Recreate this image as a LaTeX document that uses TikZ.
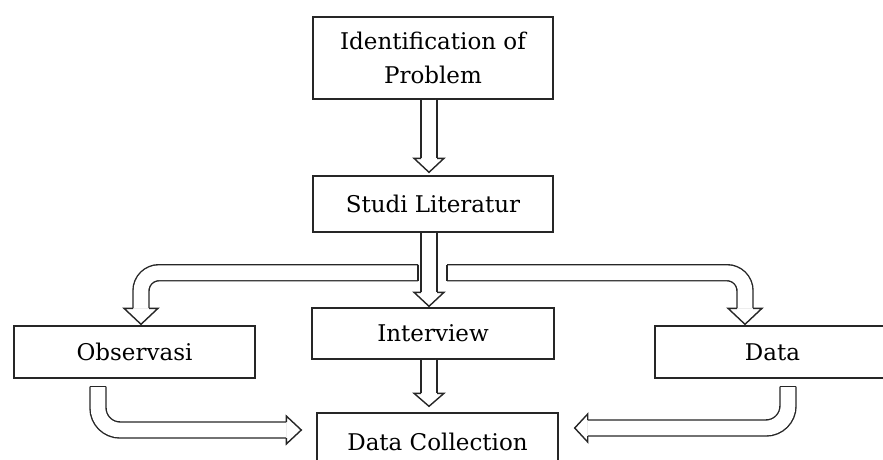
\documentclass[tikz,border=0pt]{standalone}
\usepackage{fontspec}
\setmainfont{DejaVu Serif}
\usetikzlibrary{calc}
\begin{document}
\begin{tikzpicture}[x=1pt,y=-1pt]

    \tikzset{
      stepbox/.style={
        draw=black!85,
        line width=1.4pt,
        inner sep=0pt,
        align=center,
        font=\fontsize{23}{34}\selectfont,
      },
      shaft/.style={
        draw=black!85,
        line width=1.4pt,
        double=white,
        double distance=14.6pt,
        rounded corners=18pt,
      },
      hollowhead/.style={
        draw=black!85,
        fill=white,
        line width=1.4pt,
        line join=miter,
      },
      tailcap/.style={
        draw=black!85,
        line width=1.4pt,
      },
    }
    \useasboundingbox (0,0) rectangle (883,459);
    \clip (0,0) rectangle (883,459);

	\node[stepbox,minimum width=240pt,minimum height=82pt] (prob) at (433,58) {Identification of\\Problem};
	\node[stepbox,minimum width=240pt,minimum height=56pt] (lit) at (433,204) {Studi Literatur};
	\node[stepbox,minimum width=241pt,minimum height=52pt] (obs) at (134.5,352) {Observasi};
	\node[stepbox,minimum width=242pt,minimum height=51pt] (intv) at (433,333.5) {Interview};
	\node[stepbox,minimum width=235pt,minimum height=52pt] (data) at (772.5,352) {Data};
	\node[stepbox,minimum width=241pt,minimum height=58pt] (coll) at (437.5,442) {Data Collection};

	\coordinate (t1) at ($(lit.north)+(-4,-3)$);
	\coordinate (t2) at ($(intv.north)+(-4,-1)$);
	\coordinate (t3) at ($(obs.north)+(6.5,-1)$);
	\coordinate (t4) at ($(data.north)+(-27.5,-1)$);
	\coordinate (t5) at ($(coll.north)+(-8.5,-6)$);
	\coordinate (t6) at ($(coll.west)+(-15,-12)$);
	\coordinate (t7) at ($(coll.east)+(16,-14)$);
	\coordinate (lt) at ($(lit.south)+(-15,40)$);
	\coordinate (rt) at ($(lit.south)+(14,40)$);
	\coordinate (ot) at ($(obs.south)+(-36.5,8)$);
	\coordinate (dt) at ($(data.south)+(15.5,8)$);

	\draw[shaft] ($(prob.south)+(-4,0)$) -- ($(t1)+(0,-14)$);
	\draw[hollowhead] ($(t1)+(-8,-14)$) -- ++(-7,0) -- (t1) -- ++(15,-14) -- ++(-7,0);

	\draw[shaft] ($(lit.south)+(-4,0)$) -- ($(t2)+(0,-14)$);
	\draw[hollowhead] ($(t2)+(-8,-14)$) -- ++(-7,0) -- (t2) -- ++(15,-14) -- ++(-7,0);

	\draw[shaft] (lt) -| ($(t3)+(0,-16)$);
	\draw[tailcap] ($(lt)+(0,-8)$) -- ++(0,16);
	\draw[hollowhead] ($(t3)+(-8,-16)$) -- ++(-9,0) -- (t3) -- ++(17,-16) -- ++(-9,0);

	\draw[shaft] (rt) -| ($(t4)+(0,-16)$);
	\draw[tailcap] ($(rt)+(0,-8)$) -- ++(0,16);
	\draw[hollowhead] ($(t4)+(-8,-16)$) -- ++(-9,0) -- (t4) -- ++(17,-16) -- ++(-9,0);

	\draw[shaft] ($(intv.south)+(-4,0)$) -- ($(t5)+(0,-13)$);
	\draw[hollowhead] ($(t5)+(-8,-13)$) -- ++(-7,0) -- (t5) -- ++(15,-13) -- ++(-7,0);

	\draw[shaft,rounded corners=22pt] (ot) |- ($(t6)+(-15,0)$);
	\draw[tailcap] ($(ot)+(-8,0)$) -- ++(16,0);
	\draw[hollowhead] ($(t6)+(-15,-8)$) -- ++(0,-6) -- (t6) -- ++(-15,14) -- ++(0,-6);

	\draw[shaft,rounded corners=22pt] (dt) |- ($(t7)+(13,0)$);
	\draw[tailcap] ($(dt)+(-8,0)$) -- ++(16,0);
	\draw[hollowhead] ($(t7)+(13,-8)$) -- ++(0,-6) -- (t7) -- ++(13,14) -- ++(0,-6);

\end{tikzpicture}
\end{document}
